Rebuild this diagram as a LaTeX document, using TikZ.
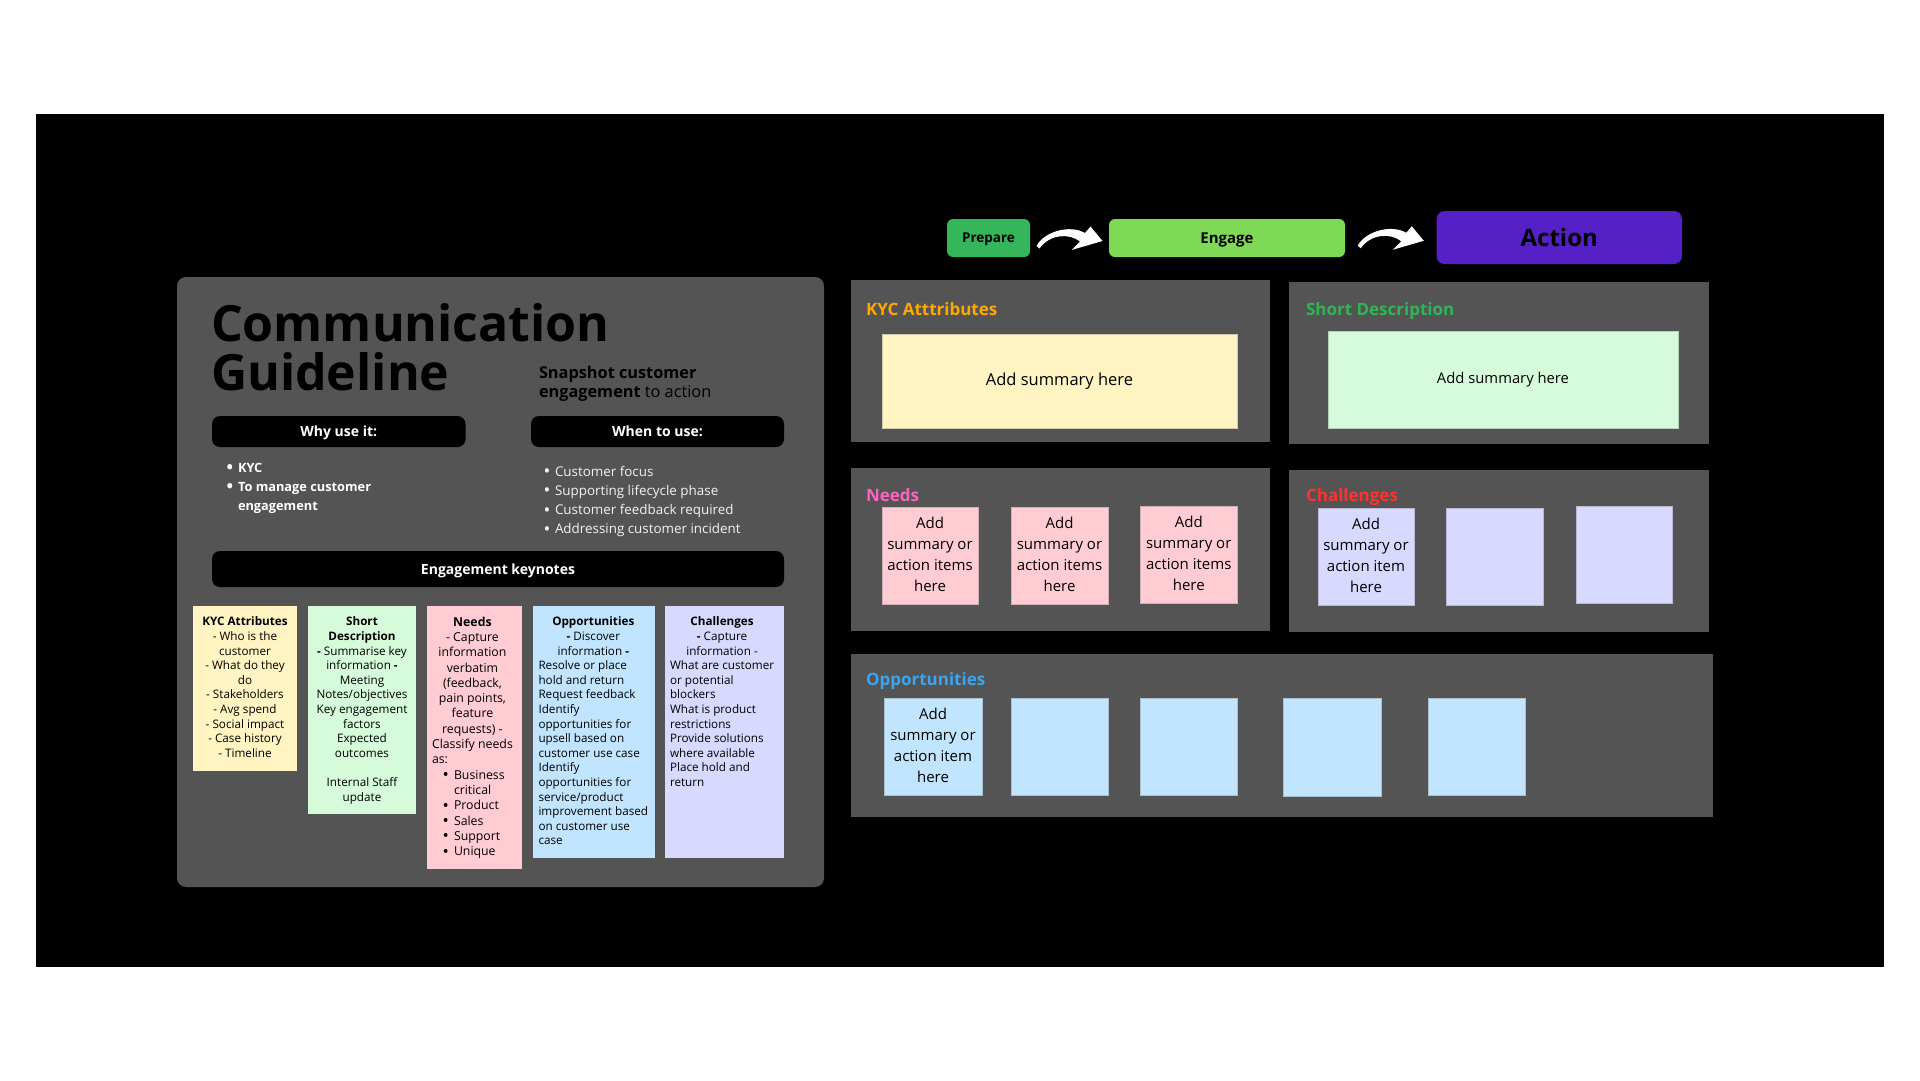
\documentclass[tikz,border=0pt]{standalone}
\usepackage{fontspec}
\usepackage{graphicx}
\setmainfont{Open Sans}
\usetikzlibrary{calc}

\definecolor{panelgrey}{HTML}{545454}
\definecolor{cardyellow}{HTML}{FFF4C2}
\definecolor{cardgreen}{HTML}{D5FBDA}
\definecolor{cardpink}{HTML}{FFCCD3}
\definecolor{cardblue}{HTML}{C2E5FF}
\definecolor{cardlav}{HTML}{D8D9FF}
\definecolor{prepgreen}{HTML}{35B65A}
\definecolor{enggreen}{HTML}{7ED957}
\definecolor{actpurple}{HTML}{5521C6}
\definecolor{kycorange}{HTML}{FFA800}
\definecolor{sdgreen}{HTML}{31B554}
\definecolor{needpink}{HTML}{FF63C0}
\definecolor{chred}{HTML}{FF3131}
\definecolor{oppblue}{HTML}{38A6F2}
\definecolor{bullgrey}{HTML}{F2F2F2}

\newcommand\ctrline[1]{\multicolumn{1}{@{}c@{}}{#1}}
\newcommand\bul{\makebox[11.5pt][l]{\raisebox{-0.12em}{\scalebox{1.35}{•}}}}

\tikzset{
  spanbox/.style n args={4}{at={({(#1+#3)/2},{(#2+#4)/2})}, anchor=center,
    minimum width={#3-#1}, minimum height={#4-#2}},
  area/.style={inner sep=0pt, fill=panelgrey},
  keybar/.style={inner sep=0pt, fill=black, rounded corners=8pt, text=white,
    text height=10pt, text depth=0pt,
    font=\bfseries\fontsize{14}{17}\selectfont},
  note/.style={inner sep=0pt, draw=#1!65!gray, line width=0.6pt, fill=#1, text=black},
  notetext/.style={font=\fontsize{15}{21}\selectfont},
  keycard/.style={inner sep=0pt, fill=#1},
  cardtext/.style={inner sep=0pt, text=black, font=\fontsize{11.7}{14.6}\selectfont},
  areatitle/.style={inner sep=0pt, anchor=base west, text=#1,
    font=\bfseries\fontsize{17}{20}\selectfont},
  stage/.style={inner sep=0pt, fill=#1, rounded corners=6pt, text=black, text depth=0pt},
  bendarrow/.pic={
    \fill[white] (-33,8) .. controls (-26,-6) and (0,-14) .. (15.5,-5)
      -- (21,-11.5) -- (33,3) -- (2,12) -- (10.5,3.5)
      .. controls (0,-5) and (-20,-4) .. (-30,10.5) -- cycle;
  },
}

\begin{document}
\begin{tikzpicture}[x=1pt, y=-1pt, every node/.style={outer sep=0pt}]
\useasboundingbox[fill=white] (0,0) rectangle (1920,1080);
\fill[black] (36,114) rectangle (1884,967);

% ---------- guideline panel ----------
\node[area, rounded corners=9pt, spanbox={177}{277}{824}{887}] (guide) {};
\node[anchor=north west, inner sep=0pt, align=left,
      font=\bfseries\fontsize{50}{48.3}\selectfont] (title) at (211,304)
  {Communication\\Guideline};
\node[anchor=north west, inner sep=0pt, font=\fontsize{16.3}{19}\selectfont] (snap) at (539,364.7)
  {\begin{tabular}{@{}l@{}}\textbf{Snapshot customer}\\\textbf{engagement} to action\end{tabular}};

\node[keybar, spanbox={212}{416}{465.5}{447}] (why) {Why use it:};
\node[keybar, spanbox={531}{416}{784}{447}] (when) {When to use:};

\node[anchor=north west, inner sep=0pt, text=white,
      font=\bfseries\fontsize{12.8}{19.2}\selectfont] (whylist) at (226.5,458.6)
  {\begin{tabular}{@{}l@{}}\bul KYC\\\bul To manage customer\\\hspace*{11.5pt}engagement\end{tabular}};
\node[anchor=north west, inner sep=0pt, text=bullgrey,
      font=\fontsize{13.4}{19.3}\selectfont] (whenlist) at (543.5,462.5)
  {\begin{tabular}{@{}l@{}}\bul Customer focus\\\bul Supporting lifecycle phase\\
   \bul Customer feedback required\\\bul Addressing customer incident\end{tabular}};

\node[keybar, spanbox={212}{551}{784}{587}] (keys) {Engagement keynotes};

% keynote cards
\node[keycard=cardyellow, spanbox={193}{606}{297}{771}] (kyccard) {};
\node[keycard=cardgreen,  spanbox={308}{606}{416}{814}] (sdcard) {};
\node[keycard=cardpink,   spanbox={427}{606}{522}{869}] (needcard) {};
\node[keycard=cardblue,   spanbox={533}{606}{655}{858}] (oppcard) {};
\node[keycard=cardlav,    spanbox={665}{606}{784}{858}] (chcard) {};

\node[cardtext, anchor=north] (kyctext) at ([yshift=-9.7pt]kyccard.north)
  {\begin{tabular}{@{}c@{}}\textbf{KYC Attributes}\\- Who is the\\customer\\- What do they\\do\\
   - Stakeholders\\- Avg spend\\- Social impact\\- Case history\\- Timeline\end{tabular}};

\node[cardtext, anchor=north] (sdtext) at ([yshift=-9.7pt]sdcard.north)
  {\begin{tabular}{@{}c@{}}\textbf{Short}\\\textbf{Description}\\\textbf{-} Summarise key\\
   information \textbf{-}\\Meeting\\Notes/objectives\\Key engagement\\factors\\Expected\\
   outcomes\\ \\Internal Staff\\update\end{tabular}};

\node[cardtext, anchor=north west, font=\fontsize{12.3}{15.3}\selectfont] (needtext)
  at ([xshift=5pt,yshift=-9.4pt]needcard.north west)
  {\begin{tabular}{@{}l@{}}\ctrline{\textbf{Needs}}\\\ctrline{- Capture}\\\ctrline{information}\\
   \ctrline{verbatim}\\\ctrline{(feedback,}\\\ctrline{pain points,}\\\ctrline{feature}\\
   \ctrline{requests) -}\\Classify needs\\as:\\
   \hspace*{10.5pt}\bul Business\\\hspace*{22pt}critical\\\hspace*{10.5pt}\bul Product\\
   \hspace*{10.5pt}\bul Sales\\\hspace*{10.5pt}\bul Support\\\hspace*{10.5pt}\bul Unique\end{tabular}};

\node[cardtext, anchor=north west] (opptext) at ([xshift=5.5pt,yshift=-9.7pt]oppcard.north west)
  {\begin{tabular}{@{}l@{}}\ctrline{\textbf{Opportunities}}\\\ctrline{\textbf{-} Discover}\\
   \ctrline{information \textbf{-}}\\Resolve or place\\hold and return\\Request feedback\\
   Identify\\opportunities for\\upsell based on\\customer use case\\Identify\\
   opportunities for\\service/product\\improvement based\\on customer use\\case\end{tabular}};

\node[cardtext, anchor=north west] (chtext) at ([xshift=5pt,yshift=-9.7pt]chcard.north west)
  {\begin{tabular}{@{}l@{}}\ctrline{\textbf{Challenges}}\\\ctrline{\textbf{-} Capture}\\
   \ctrline{information -}\\What are customer\\or potential\\blockers\\What is product\\
   restrictions\\Provide solutions\\where available\\Place hold and\\return\end{tabular}};

% ---------- stages ----------
\node[stage=prepgreen, spanbox={947}{219}{1030}{257}, text height=9.6pt,
      font=\bfseries\fontsize{13.5}{16}\selectfont] (prep) {Prepare};
\node[stage=enggreen, spanbox={1109}{219}{1345}{257}, text height=10.7pt,
      font=\bfseries\fontsize{15}{18}\selectfont] (eng) {Engage};
\node[stage=actpurple, rounded corners=8pt, spanbox={1436.5}{211}{1682}{264}, text height=17pt,
      font=\bfseries\fontsize{24}{28}\selectfont] (act) {Action};
\pic at ($(prep.east)!0.5!(eng.west)$) {bendarrow};
\pic at ($(eng.east)!0.5!(act.west)$) {bendarrow};

% ---------- KYC attributes ----------
\node[area, spanbox={851}{280}{1270}{442}] (kycarea) {};
\node[areatitle=kycorange] (kyctitle) at (866,315) {KYC Atttributes};
\node[note=cardyellow, spanbox={882}{334}{1237}{428},
      font=\fontsize{16.5}{20}\selectfont] (kycsum) {Add summary here};

% ---------- short description ----------
\node[area, spanbox={1289}{282}{1709}{444}] (sdarea) {};
\node[areatitle=sdgreen] (sdtitle) at (1306,315) {Short Description};
\node[note=cardgreen, spanbox={1328}{331}{1678}{428},
      font=\fontsize{14.8}{18}\selectfont] (sdsum) {Add summary here};

% ---------- needs ----------
\node[area, spanbox={851}{468}{1270}{631}] (needarea) {};
\node[areatitle=needpink] (needtitle) at (866,501) {Needs};
\node[note=cardpink, notetext, spanbox={882}{507}{978}{604}] (need1)
  {\begin{tabular}{@{}c@{}}Add\\summary or\\action items\\here\end{tabular}};
\node[note=cardpink, notetext, spanbox={1011}{507}{1108}{604}] (need2)
  {\begin{tabular}{@{}c@{}}Add\\summary or\\action items\\here\end{tabular}};
\node[note=cardpink, notetext, spanbox={1140.5}{506}{1237}{603}] (need3)
  {\begin{tabular}{@{}c@{}}Add\\summary or\\action items\\here\end{tabular}};

% ---------- challenges ----------
\node[area, spanbox={1289}{470}{1709}{632}] (charea) {};
\node[areatitle=chred] (chtitle) at (1306,501) {Challenges};
\node[note=cardlav, notetext, spanbox={1318}{508}{1414}{605}] (ch1)
  {\begin{tabular}{@{}c@{}}Add\\summary or\\action item\\here\end{tabular}};
\node[note=cardlav, spanbox={1446}{508}{1543}{605}] (ch2) {};
\node[note=cardlav, spanbox={1576}{506}{1672}{603}] (ch3) {};

% ---------- opportunities ----------
\node[area, spanbox={851}{654}{1713}{817}] (opparea) {};
\node[areatitle=oppblue] (opptitle) at (866,685) {Opportunities};
\node[note=cardblue, notetext, spanbox={884}{698}{982}{795}] (opp1)
  {\begin{tabular}{@{}c@{}}Add\\summary or\\action item\\here\end{tabular}};
\node[note=cardblue, spanbox={1011}{698}{1108}{795}] (opp2) {};
\node[note=cardblue, spanbox={1140.5}{698}{1237}{795}] (opp3) {};
\node[note=cardblue, spanbox={1283}{698}{1381}{796}] (opp4) {};
\node[note=cardblue, spanbox={1428}{698}{1525}{795}] (opp5) {};
\end{tikzpicture}
\end{document}
